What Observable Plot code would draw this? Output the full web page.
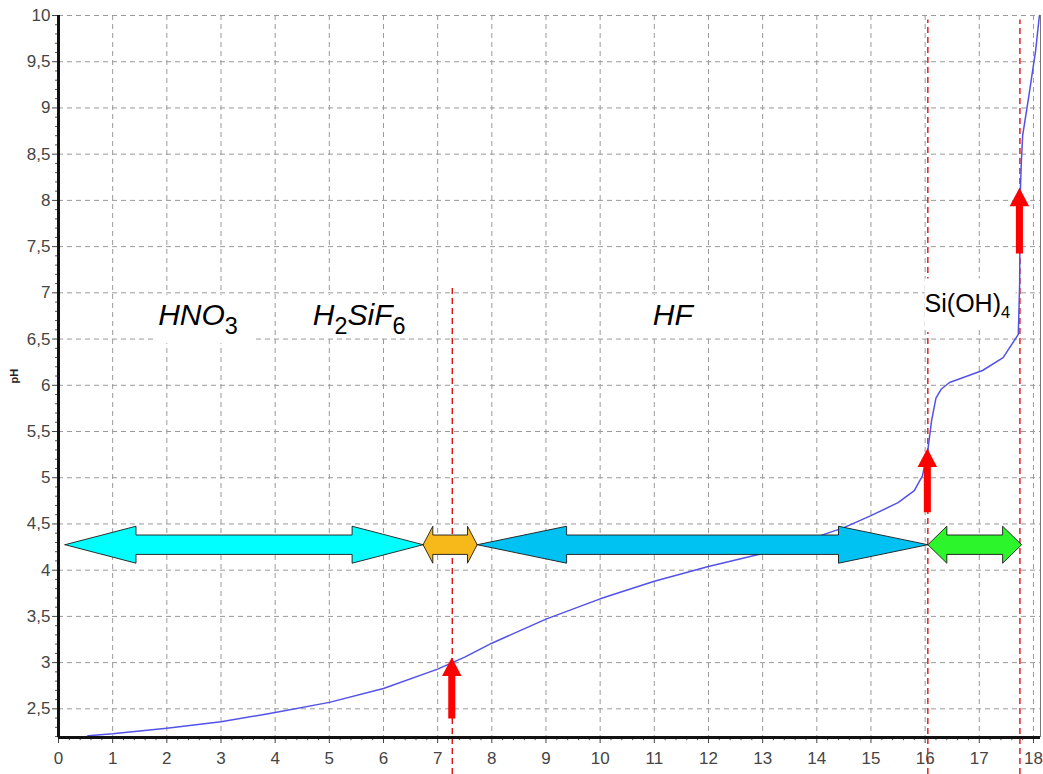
<!DOCTYPE html>
<html>
<head>
<meta charset="utf-8">
<script src="https://cdn.jsdelivr.net/npm/d3@7"></script>
<script src="https://cdn.jsdelivr.net/npm/@observablehq/plot@0.6"></script>
<style>
  html, body { margin: 0; padding: 0; background: #fff; }
  #chart svg { display: block; }
</style>
</head>
<body>
<div id="chart"></div>
<script>
// ---- data ----
const volume = [0, 0.5, 0.55, 1, 2, 3, 4, 5, 6, 7, 7.5, 8, 9, 10, 11, 12, 13, 14, 14.5, 15, 15.5, 15.8, 15.95, 16.05, 16.12, 16.2, 16.3, 16.45, 17.06, 17.44, 17.72, 17.745, 17.755, 17.775, 17.8, 17.92, 18.04, 18.11];
const pH     = [2.19, 2.19, 2.21, 2.23, 2.29, 2.36, 2.46, 2.57, 2.72, 2.93, 3.06, 3.21, 3.47, 3.69, 3.88, 4.04, 4.18, 4.36, 4.46, 4.59, 4.73, 4.86, 5.02, 5.3, 5.62, 5.86, 5.96, 6.03, 6.16, 6.3, 6.55, 7.1, 8.05, 8.4, 8.7, 9.15, 9.62, 10.0];

const xTicks = [0,1,2,3,4,5,6,7,8,9,10,11,12,13,14,15,16,17,18];
const yTicks = [2.5,3,3.5,4,4.5,5,5.5,6,6.5,7,7.5,8,8.5,9,9.5,10];
const yTickLabels = ["2,5","3","3,5","4","4,5","5","5,5","6","6,5","7","7,5","8","8,5","9","9,5","10"];

// equivalence markers (red dashed lines, segments)
const eqLineX      = [7.27, 16.05, 16.05, 17.75];
const eqLineTop    = [7.05, 9.95, 6.57, 9.95];
const eqLineBottom = [1.79, 7.1, 1.79, 1.79];

// red upward arrows
const markX    = [7.27, 16.05, 17.75];
const markTip  = [3.05, 5.31, 8.13];
const markBase = [2.39, 4.62, 7.42];

// double-headed range arrows
const bandStart = [0.13, 6.74, 7.74, 16.06];
const bandEnd   = [6.74, 7.74, 16.06, 17.79];
const bandHead  = [1.31, 0.18, 1.65, 0.35];
const bandColor = ["#00ffff", "#f7b81a", "#00c2f2", "#2cf52c"];
const bandLevel = 4.27;

// species labels
const speciesLabel  = ["HNO_3", "H_2SiF_6", "HF", "Si(OH)_4"];
const speciesX      = [2.575, 5.55, 11.34, 16.78];
const speciesY      = [6.76, 6.76, 6.76, 6.88];
const speciesItalic = [true, true, true, false];

// white boxes behind labels
const boxX1 = [1.8, 4.1, 10.6, 16.0];
const boxX2 = [3.6, 6.6, 12.2, 17.68];
const boxY1 = [6.45, 6.52, 6.52, 6.6];
const boxY2 = [6.97, 6.97, 6.97, 7.15];

// ---- derived tables ----
const X0 = 0, X1 = 18.13, Y0 = 2.19, Y1 = 10;
const curve = volume.map((v, i) => ({v, p: pH[i]}));

const bandPts = [];
const headHalf = 0.2, shaftHalf = 0.105;
bandStart.forEach((s, i) => {
  const e = bandEnd[i], h = bandHead[i], c = bandColor[i];
  const pts = [
    [s, bandLevel, bandLevel],
    [s + h, bandLevel - headHalf, bandLevel + headHalf],
    [s + h, bandLevel - shaftHalf, bandLevel + shaftHalf],
    [e - h, bandLevel - shaftHalf, bandLevel + shaftHalf],
    [e - h, bandLevel - headHalf, bandLevel + headHalf],
    [e, bandLevel, bandLevel]
  ];
  pts.forEach(([x, a, b]) => bandPts.push({id: i, x, y1: a, y2: b, c}));
});

const markPts = [];
const mShaft = 0.065, mHead = 0.18, mHeadLen = 0.2;
markX.forEach((x, i) => {
  const t = markTip[i], b = markBase[i];
  [[b, x - mShaft, x + mShaft],
   [t - mHeadLen, x - mShaft, x + mShaft],
   [t - mHeadLen, x - mHead, x + mHead],
   [t, x, x]].forEach(([y, a, c]) => markPts.push({id: i, y, x1: a, x2: c}));
});

const boxes = boxX1.map((x1, i) => ({x1, x2: boxX2[i], y1: boxY1[i], y2: boxY2[i]}));
const eqLines = eqLineX.map((x, i) => ({x, y1: eqLineBottom[i], y2: eqLineTop[i]}));
const labels = speciesLabel.map((t, i) => ({t, x: speciesX[i], y: speciesY[i], it: speciesItalic[i]}));
const yTickTable = yTicks.map((v, i) => ({v, t: yTickLabels[i]}));

const minorX = d3.range(1, 91).map(i => i * 0.2).filter(v => Math.abs(v - Math.round(v)) > 1e-6 && v < X1);
const minorY = d3.range(22, 101).map(i => i / 10).filter(v => Math.abs(v * 2 - Math.round(v * 2)) > 1e-6);

const gridStyle = {stroke: "#9a9a9a", strokeWidth: 1, strokeDasharray: "5,4"};
const tickFont = {fontSize: 17, fill: "#454545", fontFamily: "'Liberation Sans', Arial, sans-serif"};

const chart = Plot.plot({
  width: 1043,
  height: 774,
  marginLeft: 58,
  marginRight: 3,
  marginTop: 15,
  marginBottom: 37,
  style: {fontFamily: "'Liberation Sans', Arial, sans-serif", background: "#fff"},
  x: {domain: [X0, X1], axis: null},
  y: {domain: [Y0, Y1], axis: null},
  marks: [
    Plot.ruleX(xTicks.filter(d => d > 0), {...gridStyle}),
    Plot.ruleY(yTicks, {...gridStyle}),
    Plot.ruleX([X1], {stroke: "#777", strokeWidth: 1}),
    Plot.ruleX(eqLines, {x: "x", y1: "y1", y2: "y2", stroke: "#e01010", strokeWidth: 1.4, strokeDasharray: "6,4"}),
    Plot.rect(boxes, {x1: "x1", x2: "x2", y1: "y1", y2: "y2", fill: "#fff"}),
    Plot.line(curve, {x: "v", y: "p", stroke: "#5252ea", strokeWidth: 1.5}),
    Plot.areaY(bandPts, {x: "x", y1: "y1", y2: "y2", z: "id", fill: "c", stroke: "#1a1a1a", strokeWidth: 0.9, curve: "linear"}),
    Plot.areaX(markPts, {y: "y", x1: "x1", x2: "x2", z: "id", fill: "#ff0000", curve: "linear"}),
    Plot.text(labels.filter(d => d.it), {x: "x", y: "y", text: "t", fontSize: 30, fontStyle: "italic", fill: "#000", textAnchor: "middle"}),
    Plot.text(labels.filter(d => !d.it), {x: "x", y: "y", text: "t", fontSize: 25, fill: "#000", textAnchor: "middle"}),
    Plot.text(["pH"], {frameAnchor: "left", dx: -44, dy: 7, rotate: -90, fontSize: 11, fontWeight: "bold", fill: "#222"}),
    // ticks
    Plot.ruleX(minorX, {y1: Y0, y2: Y0 - 0.035, stroke: "#555", strokeWidth: 1}),
    Plot.ruleY(minorY, {x1: X0, x2: X0 - 0.055, stroke: "#555", strokeWidth: 1}),
    Plot.ruleX(xTicks, {y1: Y0, y2: Y0 - 0.065, stroke: "#444", strokeWidth: 1}),
    Plot.ruleY(yTicks, {x1: X0, x2: X0 - 0.11, stroke: "#444", strokeWidth: 1}),
    // tick labels
    Plot.text(xTicks, {x: d => d, y: Y0, dy: 21, text: d => String(d), textAnchor: "middle", ...tickFont}),
    Plot.text(yTickTable, {x: X0, y: "v", dx: -8, text: "t", textAnchor: "end", ...tickFont}),
    // axis lines
    Plot.ruleX([X0], {stroke: "#111", strokeWidth: 3}),
    Plot.ruleY([Y0], {stroke: "#111", strokeWidth: 3})
  ],
  color: {type: "identity"}
});

// subscripts: turn "_d" into real subscript tspans (upright digits)
d3.select(chart).selectAll("text").each(function() {
  const el = d3.select(this);
  if (this.querySelector("tspan")) return;
  const txt = this.textContent;
  if (!txt.includes("_")) return;
  const fs = parseFloat(this.getAttribute("font-size") || (this.parentNode && this.parentNode.getAttribute("font-size"))) || 30;
  const italic = (this.getAttribute("font-style") || "") === "italic" ||
                 (this.parentNode && this.parentNode.getAttribute("font-style") === "italic");
  const ratio = italic ? 0.78 : 0.66;
  const shift = fs * (italic ? 0.3 : 0.26);
  const parts = txt.split(/_(\d)/);
  el.text(null);
  let down = false;
  parts.forEach((p, k) => {
    if (!p) return;
    const isSub = k % 2 === 1;
    const ts = el.append("tspan").text(p);
    if (isSub) {
      ts.attr("font-size", fs * ratio).attr("font-style", "normal");
      if (!down) { ts.attr("dy", shift); down = true; }
    } else if (down) {
      ts.attr("dy", -shift); down = false;
    }
  });
});

document.getElementById("chart").appendChild(chart);
</script>
</body>
</html>
